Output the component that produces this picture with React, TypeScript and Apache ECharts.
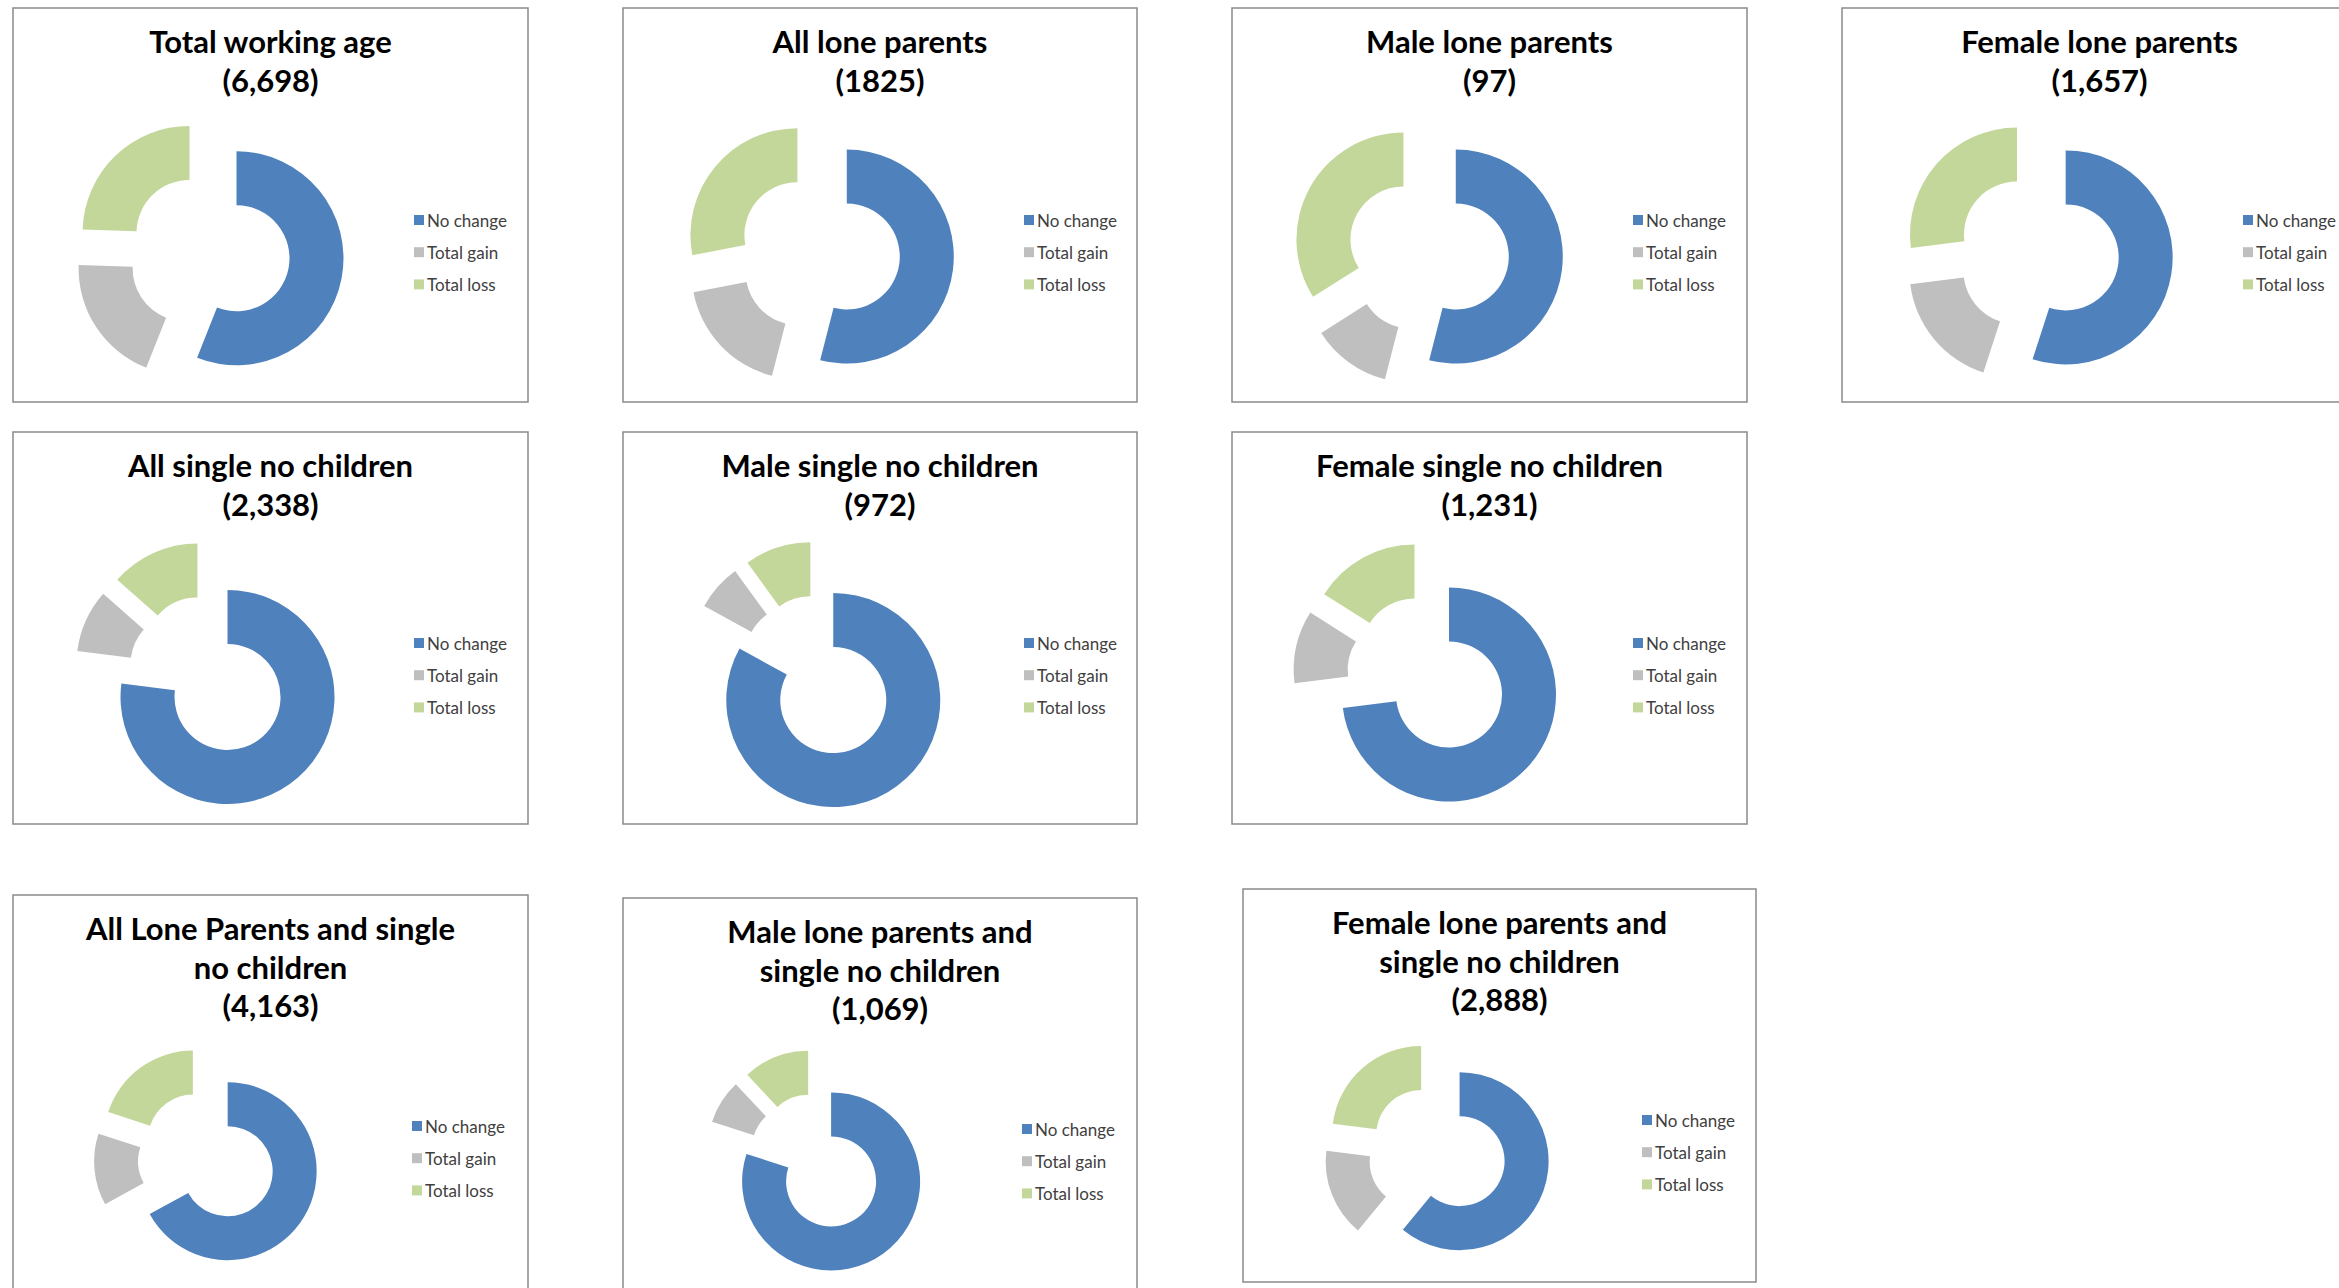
import React, { useEffect, useRef } from "react";
import * as echarts from "echarts";

// ---- Data ----
const categories = ["No change", "Total gain", "Total loss"];
const panelTitles = [
  "Total working age\n(6,698)",
  "All lone parents\n(1825)",
  "Male lone parents\n(97)",
  "Female lone parents\n(1,657)",
  "All single no children\n(2,338)",
  "Male single no children\n(972)",
  "Female single no children\n(1,231)",
  "All Lone Parents and single\nno children\n(4,163)",
  "Male lone parents and\nsingle no children\n(1,069)",
  "Female lone parents and\nsingle no children\n(2,888)",
];
// shares in percent
const noChange = [56, 54, 54, 55, 77, 83, 73, 67, 80, 61];
const totalGain = [19.5, 18, 12, 18, 9.5, 7, 11, 13, 8, 16];
const totalLoss = [24.5, 28, 34, 27, 13.5, 10, 16, 20, 12, 23];

const colors = ["#4F81BD", "#BFBFBF", "#C4D79B"];

// ---- Layout (panel boxes: x, y, w, h) ----
const boxes = [
  [13, 8, 515, 394],
  [623, 8, 514, 394],
  [1232, 8, 515, 394],
  [1842, 8, 515, 394],
  [13, 432, 515, 392],
  [623, 432, 514, 392],
  [1232, 432, 515, 392],
  [13, 895, 515, 394],
  [623, 898, 514, 394],
  [1243, 889, 513, 393],
];
// pie geometry relative to panel: cx, cy, inner, outer, explode, legend x, legend first-item center y
const geom = [
  [196, 245, 53, 107, 28, 401, 212],
  [196, 245, 53, 107, 28, 401, 212],
  [196, 245, 53, 107, 28, 401, 212],
  [196, 245, 53, 107, 28, 401, 212],
  [196, 244, 53, 107, 28, 401, 211],
  [196, 244, 53, 107, 28, 401, 211],
  [196, 244, 53, 107, 28, 401, 211],
  [194, 264, 45, 89, 24, 399, 231],
  [194, 264, 45, 89, 24, 399, 231],
  [194, 264, 45, 89, 24, 399, 231],
];

export default function App() {
  const ref = useRef<HTMLDivElement>(null);
  useEffect(() => {
    if (!ref.current) return;
    const chart = echarts.init(ref.current, undefined, { renderer: "svg" });

    const titles = panelTitles.map((t, i) => {
      const [x, y, w] = boxes[i];
      return {
        text: t,
        left: x + w / 2,
        top: y + 14,
        textAlign: "center",
        padding: 0,
        textStyle: {
          fontFamily: "Lato",
          fontWeight: "bold",
          fontSize: 31,
          lineHeight: 38.5,
          color: "#000",
        },
      };
    });

    const legends = boxes.map((b, i) => {
      const g = geom[i];
      return {
        orient: "vertical",
        left: b[0] + g[5],
        top: b[1] + g[6] - 10,
        padding: 0,
        itemWidth: 10,
        itemHeight: 10,
        itemGap: 12.2,
        icon: "rect",
        selectedMode: false,
        data: categories,
        textStyle: {
          fontFamily: "Lato",
          fontSize: 17,
          lineHeight: 20,
          color: "#404040",
          padding: [0, 0, 0, -2],
        },
      };
    });

    const series = boxes.map((b, i) => {
      const g = geom[i];
      const vals = [noChange[i], totalGain[i], totalLoss[i]];
      return {
        type: "pie",
        center: [b[0] + g[0], b[1] + g[1]],
        radius: [g[2], g[3]],
        startAngle: 90,
        clockwise: true,
        selectedMode: "multiple",
        selectedOffset: g[4],
        avoidLabelOverlap: false,
        label: { show: false },
        labelLine: { show: false },
        emphasis: { disabled: true },
        select: { itemStyle: { borderWidth: 0 } },
        itemStyle: { borderWidth: 0 },
        data: categories.map((name, k) => ({
          name,
          value: vals[k],
          selected: true,
          itemStyle: { color: colors[k] },
        })),
      };
    });

    const borders = boxes.map((b) => ({
      type: "rect",
      silent: true,
      z: -1,
      shape: { x: b[0], y: b[1], width: b[2], height: b[3] },
      style: { fill: "none", stroke: "#8a8a8a", lineWidth: 1.5 },
    }));

    chart.setOption({
      animation: false,
      color: colors,
      backgroundColor: "#ffffff",
      title: titles,
      legend: legends,
      graphic: borders,
      series,
    });
    return () => chart.dispose();
  }, []);

  return (
    <div
      ref={ref}
      style={{
        position: "fixed",
        left: 0,
        top: 0,
        width: 2339,
        height: 1288,
        background: "#fff",
      }}
    />
  );
}
